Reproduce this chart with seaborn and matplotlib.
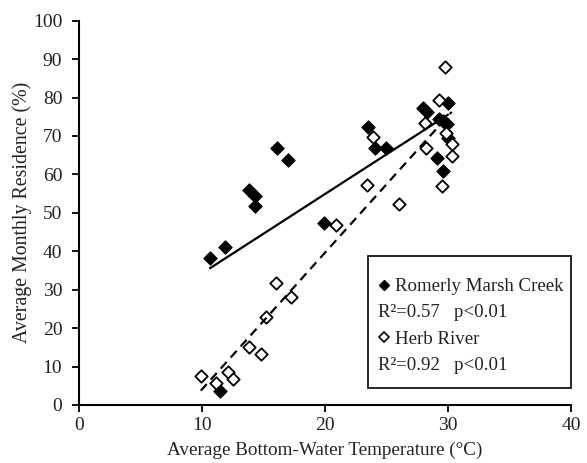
import numpy as np
import pandas as pd
import seaborn as sns
import matplotlib.pyplot as plt
from matplotlib.lines import Line2D
from matplotlib.patches import Rectangle

# Romerly Marsh Creek (filled diamonds)
romerly_temp = [10.65, 11.85, 11.46, 16.07, 16.97, 13.82, 14.3, 14.3, 19.9, 23.5, 24.1,
                24.96, 30.0, 28.0, 28.3, 29.3, 29.6, 29.9, 30.0, 29.1, 29.6]
romerly_res = [38.3, 41.2, 3.6, 66.8, 63.8, 55.9, 54.4, 51.8, 47.3, 72.3, 66.8,
               66.9, 78.7, 77.2, 76.3, 74.3, 74.0, 73.1, 69.4, 64.2, 61.0]

# Herb River (open diamonds)
herb_temp = [29.76, 29.3, 28.1, 29.8, 30.3, 30.3, 28.2, 29.5, 26.0, 23.4, 23.9,
             20.9, 16.0, 17.2, 15.2, 13.8, 14.8, 9.9, 11.1, 12.1, 12.5]
herb_res = [88.0, 79.4, 73.5, 70.9, 67.9, 64.8, 66.8, 57.0, 52.3, 57.2, 69.8,
            46.8, 31.7, 28.0, 22.8, 15.2, 13.3, 7.6, 5.8, 8.5, 6.8]

# linear trendlines (slope, intercept)
romerly_fit = (2.065, 13.6)
herb_fit = (3.557, -31.5)

romerly_stats = "R²=0.57   p<0.01"
herb_stats = "R²=0.92   p<0.01"

romerly = pd.DataFrame({'temp': romerly_temp, 'res': romerly_res})
herb = pd.DataFrame({'temp': herb_temp, 'res': herb_res})

sns.set_theme(style="ticks")
plt.rcParams['font.family'] = ['Liberation Serif', 'DejaVu Serif']

fig = plt.figure(figsize=(5.87, 4.63), dpi=100)
ax = fig.add_axes([0.1346, 0.1253, 0.8382, 0.8300])

sns.scatterplot(data=romerly, x='temp', y='res', marker='D', s=46, color='black',
                edgecolor='black', linewidth=0.8, ax=ax, zorder=3)
sns.scatterplot(data=herb, x='temp', y='res', marker='D', s=40, color='white',
                edgecolor='black', linewidth=1.3, ax=ax, zorder=4)

# trendlines over each series' x range
xr = np.array([romerly['temp'].min(), romerly['temp'].max()])
sns.lineplot(x=xr, y=romerly_fit[0] * xr + romerly_fit[1], color='black', linewidth=1.6,
             ax=ax, zorder=5)
xh = np.array([herb['temp'].min(), herb['temp'].max()])
sns.lineplot(x=xh, y=herb_fit[0] * xh + herb_fit[1], color='black', linewidth=1.6,
             ax=ax, zorder=5)
ax.lines[-1].set_dashes((4, 2.7))

ax.set_xlim(0, 40)
ax.set_ylim(0, 100)
ax.set_xticks(range(0, 41, 10))
ax.set_yticks(range(0, 101, 10))
ax.set_xlabel('Average Bottom-Water Temperature (°C)', fontsize=13.8, color='#222222', labelpad=6)
ax.set_ylabel('Average Monthly Residence (%)', fontsize=14.3, color='#222222', labelpad=1)
ax.tick_params(axis='both', labelsize=14, length=5, width=1.3, color='black',
               labelcolor='#222222', direction='out')
ax.tick_params(axis='y', pad=7)
sns.despine(ax=ax)
for sp in ['left', 'bottom']:
    ax.spines[sp].set_linewidth(1.5)
    ax.spines[sp].set_color('black')

handles = [
    Line2D([], [], marker='D', linestyle='', color='black', markersize=5.5),
    Line2D([], [], linestyle='', marker=''),
    Line2D([], [], marker='D', linestyle='', markerfacecolor='white',
           markeredgecolor='black', markeredgewidth=1.2, markersize=5.5),
    Line2D([], [], linestyle='', marker=''),
]
labels = ['Romerly Marsh Creek', romerly_stats, 'Herb River', herb_stats]
leg = ax.legend(handles, labels, loc='upper left', bbox_to_anchor=(0.6077, 0.3300),
                borderaxespad=0, frameon=False, fontsize=13.6, handlelength=0.6,
                handletextpad=0.3, labelspacing=0.47, borderpad=0)
for t in leg.get_texts():
    t.set_color('#222222')
# pull the R² rows left under the markers
for i in (1, 3):
    leg.get_texts()[i].set_x(-17)

# legend frame (Excel-style box, more room at the top)
ax.add_patch(Rectangle((0.5874, 0.0442), 0.4126, 0.3435, transform=ax.transAxes,
                       fill=False, edgecolor='black', linewidth=1.2, clip_on=False, zorder=6))

plt.grid(False)
plt.savefig('out.png', dpi=100)
